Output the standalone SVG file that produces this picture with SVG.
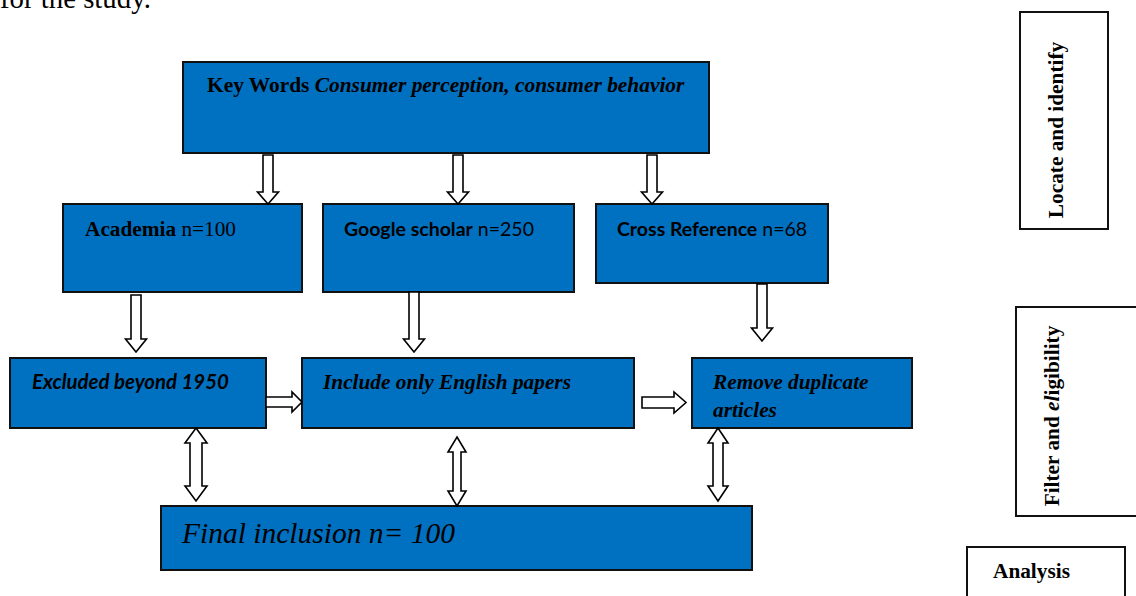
<svg xmlns="http://www.w3.org/2000/svg" width="1136" height="596" viewBox="0 0 1136 596">
<style>
.box{fill:#0070C0;stroke:#111;stroke-width:2}
.side{fill:#fff;stroke:#111;stroke-width:2}
.arr{fill:#fff;stroke:#000;stroke-width:1.6;stroke-linejoin:miter}
.tnr{font-family:"Liberation Serif","Times New Roman",serif;fill:#000}
.cal{font-family:Lato,"Liberation Sans",sans-serif;fill:#000}
.b{font-weight:bold}
.i{font-style:italic}
</style>
<rect width="1136" height="596" fill="#fff"/>
<text class="tnr" x="0" y="8" font-size="28.8">for the study.</text>

<g id="keywords">
<rect class="box" x="183" y="62" width="526" height="91"/>
<text class="tnr b" x="207" y="92" font-size="21.4">Key Words <tspan class="i">Consumer perception, consumer behavior</tspan></text>
</g>
<g id="academia">
<rect class="box" x="63" y="204" width="239" height="88"/>
<text class="tnr" x="85" y="236" font-size="21.3"><tspan class="b">Academia</tspan> n=100</text>
</g>
<g id="google">
<rect class="box" x="323" y="204" width="251" height="88"/>
<text class="cal" x="344" y="236" font-size="19.5"><tspan class="b">Google scholar</tspan> n=250</text>
</g>
<g id="crossref">
<rect class="box" x="596" y="204" width="232" height="79"/>
<text class="cal" x="617" y="236" font-size="19.5"><tspan class="b">Cross Reference</tspan> n=68</text>
</g>
<g id="excluded">
<rect class="box" x="10" y="358" width="256" height="70"/>
<text class="cal b i" x="32" y="389" font-size="20.4">Excluded beyond 1950</text>
</g>
<g id="english">
<rect class="box" x="302" y="358" width="332" height="70"/>
<text class="tnr b i" x="323" y="389" font-size="21.3">Include only English papers</text>
</g>
<g id="duplicate">
<rect class="box" x="692" y="358" width="220" height="70"/>
<text class="tnr b i" x="713" y="389" font-size="21.3">Remove duplicate</text>
<text class="tnr b i" x="713" y="417" font-size="21.3">articles</text>
</g>
<g id="final">
<rect class="box" x="161" y="506" width="591" height="64"/>
<text class="tnr i" x="182" y="543" font-size="29.5">Final inclusion n= 100</text>
</g>

<g id="locate">
<rect class="side" x="1020" y="12" width="88" height="217"/>
<text class="tnr b" font-size="21.3" text-anchor="middle" transform="translate(1063,130) rotate(-90)">Locate and identify</text>
</g>
<g id="filter">
<rect class="side" x="1016" y="307" width="124" height="209"/>
<text class="tnr b" font-size="21.3" text-anchor="middle" transform="translate(1059,416) rotate(-90)">Filter and <tspan class="i">el</tspan>igibility</text>
</g>
<g id="analysis">
<rect class="side" x="967" y="547" width="158" height="60"/>
<text class="tnr b" x="993" y="578" font-size="21.3">Analysis</text>
</g>

<g id="connectors">
<path class="arr" d="M263,155 H273 V192 H278.5 L268,204 L257.5,192 H263 Z"/>
<path class="arr" d="M453,155 H463 V192 H468.5 L458,204 L447.5,192 H453 Z"/>
<path class="arr" d="M647,155 H657 V192 H662.5 L652,204 L641.5,192 H647 Z"/>
<path class="arr" d="M131,295 H141 V339 H146.5 L136,352 L125.5,339 H131 Z"/>
<path class="arr" d="M409,292 H419 V339 H424.5 L414,352 L403.5,339 H409 Z"/>
<path class="arr" d="M757,284 H767 V328 H772.5 L762,341 L751.5,328 H757 Z"/>
<path class="arr" d="M266,397 H292 V392 L302,402 L292,412 V407 H266 Z"/>
<path class="arr" d="M642,397 H674 V392 L686,402.5 L674,413 V408 H642 Z"/>
<path class="arr" d="M196,428 L207,443 H202 V486 H207 L196,501 L185,486 H190 V443 H185 Z"/>
<path class="arr" d="M457,437 L466,452 H461 V491 H466 L457,506 L448,491 H453 V452 H448 Z"/>
<path class="arr" d="M718,428 L728,443 H723 V486 H728 L718,501 L708,486 H713 V443 H708 Z"/>
</g>
</svg>
